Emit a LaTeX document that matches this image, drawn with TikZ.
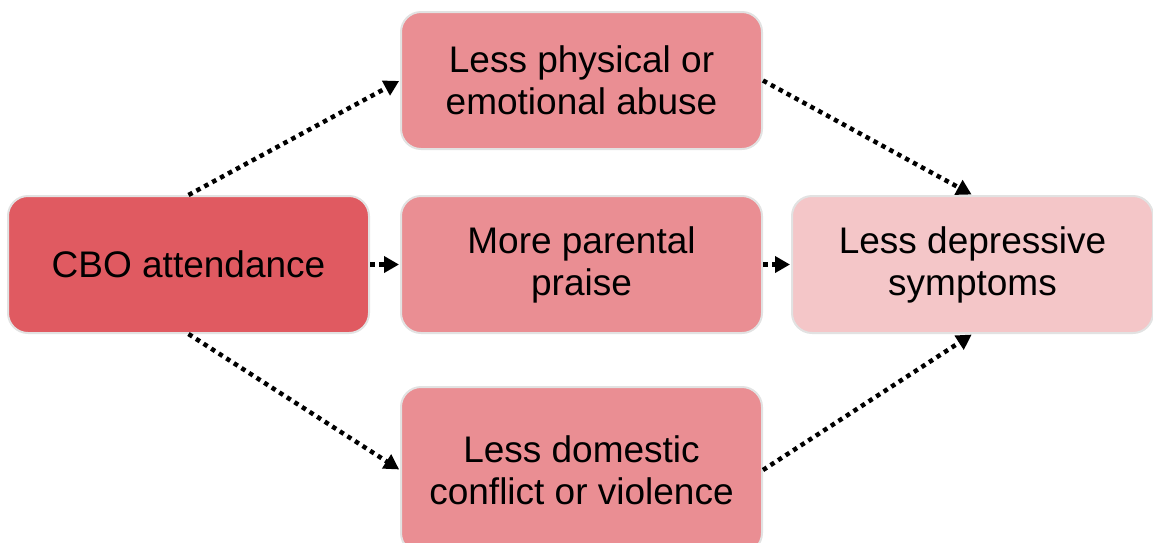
\documentclass[tikz,border=0pt]{standalone}
\usepackage{fontspec}
\setmainfont{Liberation Sans}
\usetikzlibrary{arrows.meta}
\definecolor{cbo}{HTML}{E05A61}
\definecolor{mid}{HTML}{EA8E93}
\definecolor{outc}{HTML}{F4C6C8}
\definecolor{edge}{HTML}{E2E2E2}
\begin{document}
\begin{tikzpicture}[x=1pt,y=-1pt,
  box/.style={draw=edge,line width=2pt,rounded corners=20pt,minimum width=361pt,minimum height=137pt,
    align=center,inner sep=0pt,font=\fontsize{37}{42}\selectfont},
  link/.style={line width=4.5pt,dash pattern=on 4.5pt off 4.5pt,-{Triangle[length=15pt,width=16pt]},shorten >=1pt}]
\useasboundingbox (0,0) rectangle (1153,542);
\clip (0,0) rectangle (1153,542);
\node[box,fill=cbo] (cbo) at (188.5,264.5) {CBO attendance};
\node[box,fill=mid] (abuse) at (581.5,80.5) {Less physical or\\emotional abuse};
\node[box,fill=mid] (praise) at (581.5,264.5) {More parental\\praise};
\node[box,fill=mid,minimum height=166pt] (conf) at (581.5,470) {Less domestic\\conflict or violence};
\node[box,fill=outc] (dep) at (972.5,264.5) {Less depressive\\symptoms};
\draw[link] (cbo.north) -- (abuse.west);
\draw[link] (cbo.east) -- (praise.west);
\draw[link] (cbo.south) -- (conf.west);
\draw[link] (abuse.east) -- (dep.north);
\draw[link] (praise.east) -- (dep.west);
\draw[link] (conf.east) -- (dep.south);
\end{tikzpicture}
\end{document}
